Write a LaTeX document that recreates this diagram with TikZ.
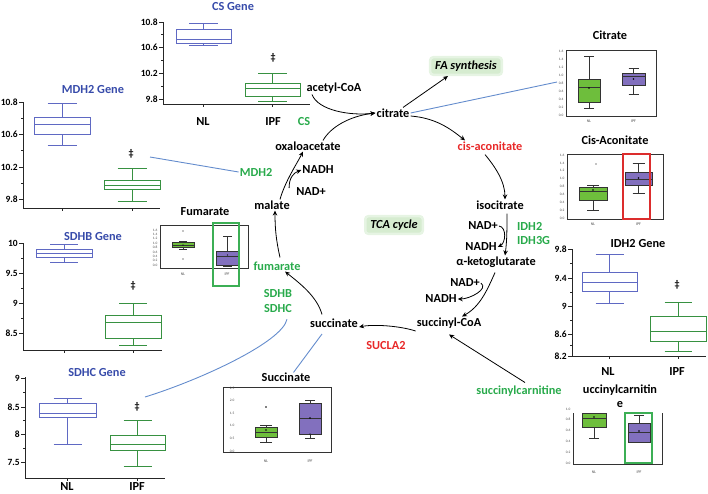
\documentclass[tikz,border=0pt]{standalone}
\usepackage{fontspec}
\setmainfont{Carlito}
\usetikzlibrary{arrows.meta}
\definecolor{gtitleblue}{RGB}{55,75,170}
\definecolor{geneblue}{RGB}{95,105,195}
\definecolor{genegreen}{RGB}{55,145,65}
\definecolor{lblgreen}{RGB}{40,170,75}
\definecolor{lblred}{RGB}{232,40,40}
\definecolor{fillgreen}{RGB}{110,190,60}
\definecolor{fillpurple}{RGB}{130,112,190}
\definecolor{linkblue}{RGB}{100,140,205}
\definecolor{shadegreen}{RGB}{214,236,208}
\definecolor{hlgreen}{RGB}{60,175,85}
\definecolor{hlred}{RGB}{220,45,45}
% box plot: cx, half width, cap half width, whisker top, q top, median, q bottom, whisker bottom, style
\newcommand{\bxp}[9]{%
  \draw[#9] (#1-#2,#5) rectangle (#1+#2,#7);
  \draw[#9] (#1-#2,#6) -- (#1+#2,#6);
  \draw[#9] (#1,#5) -- (#1,#4) (#1-#3,#4) -- (#1+#3,#4);
  \draw[#9] (#1,#7) -- (#1,#8) (#1-#3,#8) -- (#1+#3,#8);
}
% major y ticks of a gene plot: axis x, name prefix, list y/label
\newcommand{\yticks}[3]{%
  \foreach \yy/\ll [count=\ii] in {#3} {%
    \draw[ax] (#1,\yy) -- (#1-4,\yy);
    \node[ytl, anchor=east] (#2\ii) at (#1-4.5,\yy) {\ll};}
}
\newcommand{\mnticks}[2]{\foreach \yy in {#2} {\draw[ax] (#1,\yy) -- (#1-2.5,\yy);}}
% tick labels of a metabolite plot: x, y start, step, list, name prefix
\newcommand{\mticks}[5]{%
  \foreach \ll [count=\ii] in {#4} {%
    \node[mtick, anchor=east] (#5\ii) at (#1,{#2+#3*(\ii-1)}) {\ll};}
}
\tikzset{
  lbl/.style={font=\fontsize{12.3}{14}\selectfont\bfseries, inner sep=1pt},
  glbl/.style={lbl, text=lblgreen},
  rlbl/.style={lbl, text=lblred},
  gtitle/.style={lbl, text=gtitleblue},
  ktitle/.style={lbl, text=black},
  ytl/.style={font=\fontsize{9.5}{10}\selectfont\bfseries, inner sep=0.5pt},
  dag/.style={font=\fontsize{10}{10}\selectfont\bfseries, inner sep=0pt},
  mtick/.style={font=\fontsize{3.5}{4}\selectfont, text=black!70, inner sep=0.5pt},
  mxl/.style={font=\fontsize{4}{4}\selectfont, text=black!70, inner sep=0.5pt},
  ax/.style={draw=black!85, line width=0.8pt},
  gb/.style={draw=geneblue, line width=0.9pt},
  gg/.style={draw=genegreen, line width=0.9pt},
  mg/.style={draw=black!80, fill=fillgreen, line width=0.6pt},
  mp/.style={draw=black!80, fill=fillpurple, line width=0.6pt},
  mframe/.style={draw=black!80, line width=0.6pt},
  shadebox/.style={font=\fontsize{12.3}{14}\selectfont\bfseries\itshape, fill=shadegreen,
     draw=shadegreen!60!white, line width=2.5pt, rounded corners=3pt, inner xsep=5pt, inner ysep=3.5pt},
  arr/.style={-{Stealth[length=5pt,width=4.5pt]}, line width=0.8pt, draw=black},
  link/.style={draw=linkblue, line width=0.9pt},
  meandot/.style={fill=black},
}
\begin{document}
\begin{tikzpicture}[x=1pt,y=-1pt]
\useasboundingbox (0,0) rectangle (708,493);

%%%%%%%% central cycle labels
\node[shadebox] (fa) at (466,66) {FA synthesis};
\node[shadebox] (tca) at (394,225) {TCA cycle};
\node[lbl] (acetyl) at (334,88) {acetyl-CoA};
\node[lbl] (citrate) at (393,113) {citrate};
\node[glbl] (cs) at (304,122) {CS};
\node[lbl] (oaa) at (308,146) {oxaloacetate};
\node[glbl] (mdh2) at (256,172) {MDH2};
\node[lbl] (nadh1) at (318,170) {NADH};
\node[lbl] (nad1) at (311,192) {NAD+};
\node[lbl] (malate) at (272,205) {malate};
\node[rlbl] (cisacon) at (490,146) {cis-aconitate};
\node[lbl] (isocit) at (500,205) {isocitrate};
\node[lbl] (nad2) at (483,226) {NAD+};
\node[glbl, anchor=west] (idh2) at (516,226) {IDH2};
\node[glbl, anchor=west] (idh3g) at (516,241) {IDH3G};
\node[lbl] (nadh2) at (481,247) {NADH};
\node[lbl] (akg) at (496,262) {α-ketoglutarate};
\node[lbl] (nad3) at (465,283) {NAD+};
\node[lbl] (nadh3) at (441,299) {NADH};
\node[lbl] (succoa) at (449,323) {succinyl-CoA};
\node[lbl] (succ) at (334,323) {succinate};
\node[rlbl] (sucla2) at (386,346) {SUCLA2};
\node[glbl] (fum) at (277,266) {fumarate};
\node[glbl] (sdhb) at (278,294) {SDHB};
\node[glbl] (sdhc) at (278,309) {SDHC};
\node[glbl] (succarn) at (519,391) {succinylcarnitine};

%%%%%%%% cycle arrows
\draw[arr] ([xshift=-22pt]acetyl.south) .. controls +(6,16) and +(-25,3) .. (citrate.west);
\draw[arr] ([xshift=15pt]oaa.north) .. controls +(8,-14) and +(-25,3) .. (citrate.west);
\draw[arr] ([xshift=10pt]citrate.north) -- ([xshift=-18pt]fa.south);
\draw[arr] ([yshift=-3pt]citrate.east) .. controls +(25,2) and +(-15,-12) .. ([xshift=-25pt]cisacon.north);
\draw[arr] ([xshift=-5pt,yshift=-3pt]cisacon.south) .. controls +(10,12) and +(0,-18) .. ([xshift=5pt]isocit.north);
\draw[arr] ([xshift=7pt,yshift=-3pt]isocit.south) .. controls +(0,15) and +(2,-15) .. ([xshift=9pt]akg.north);
\draw[arr] (nad2.east) .. controls +(8,1) and +(8,-4) .. (nadh2.east);
\draw[arr] ([xshift=-1pt,yshift=-4pt]akg.south) .. controls +(-8,18) and +(18,-10) .. ([xshift=13pt]succoa.north);
\draw[arr] (nad3.east) .. controls +(8,6) and +(12,0) .. (nadh3.east);
\draw[arr] ([yshift=-8pt]succoa.west) .. controls +(-15,-5) and +(15,-3) .. ([yshift=-4pt]succ.east);
\draw[arr] ([xshift=-12pt,yshift=3pt]succ.north) .. controls +(-5,-18) and +(15,12) .. ([xshift=8pt]fum.south);
\draw[arr] ([xshift=3pt,yshift=3pt]fum.north) .. controls +(-4,-18) and +(0,18) .. ([xshift=3pt]malate.south);
\draw[arr] ([xshift=8pt]malate.north) .. controls +(5,-18) and +(-6,12) .. ([xshift=-5pt]oaa.south);
\draw[arr] ([xshift=-6pt,yshift=4pt]nad1.west) .. controls +(0,-10) and +(-8,3) .. (nadh1.west);
\draw[arr] ([xshift=6pt,yshift=2pt]succarn.north) -- ([yshift=-5pt]succoa.south);

%%%%%%%% CS gene
\node[gtitle] (csg) at (233,7) {CS Gene};
\draw[ax] (163,22) -- (163,104) -- (310,104);
\yticks{163}{cstk}{22/10.8,47/10.6,73/10.2,99/9.8}
\mnticks{163}{34.5,60,86}
\draw[ax] (203.5,104) -- (203.5,107) (272.5,104) -- (272.5,107);
\bxp{203.5}{27.5}{14.5}{23}{29}{39}{43}{45}{gb}
\bxp{272.5}{27.5}{14.5}{73}{83}{88}{96}{101}{gg}
\node[dag] (csd) at (273,58) {‡};
\node[lbl] (csnl) at (203,122) {NL};
\node[lbl] (csipf) at (273,122) {IPF};

%%%%%%%% MDH2 gene
\node[gtitle] (mdg) at (93,90) {MDH2 Gene};
\draw[ax] (23,102) -- (23,208) -- (160,208);
\yticks{23}{mdtk}{102/10.8,134/10.6,167/10.2,199/9.8}
\mnticks{23}{118,150.5,183}
\draw[ax] (62,208) -- (62,211) (132,208) -- (132,211);
\bxp{62}{28}{14.5}{103}{117}{124}{134}{145}{gb}
\bxp{132}{28}{14.5}{168}{180}{185}{189}{201}{gg}
\node[dag] (mdd) at (131,154) {‡};

%%%%%%%% SDHB gene
\node[gtitle] (sbg) at (93,237) {SDHB Gene};
\draw[ax] (23,243) -- (23,350) -- (162,350);
\yticks{23}{sbtk}{243/10,273/9.5,303/9,333/8.5}
\mnticks{23}{258,288,318}
\draw[ax] (64,350) -- (64,353) (133,350) -- (133,353);
\bxp{64}{28}{14}{244}{249}{253}{257}{262}{gb}
\bxp{133}{28}{14}{303}{315}{322}{338}{345}{gg}
\node[dag] (sbd) at (133,286) {‡};

%%%%%%%% SDHC gene
\node[gtitle] (scg) at (97,373) {SDHC Gene};
\draw[ax] (25,377) -- (25,478) -- (165,478);
\yticks{25}{sctk}{378/9,407/8.5,434/8,462/7.5}
\mnticks{25}{392.5,420.5,448}
\draw[ax] (67.5,478) -- (67.5,481) (137.5,478) -- (137.5,481);
\bxp{67.5}{28.5}{14}{398}{403}{413}{417}{444}{gb}
\bxp{137.5}{27.5}{14}{420}{435}{444}{450}{466}{gg}
\node[dag] (scd) at (137,407) {‡};
\node[lbl] (scnl) at (67,487) {NL};
\node[lbl] (scipf) at (137,487) {IPF};

%%%%%%%% IDH2 gene
\node[ktitle] (idg) at (638,244) {IDH2 Gene};
\draw[ax] (572,249) -- (572,356) -- (706,356);
\yticks{572}{idtk}{249/9.8,278/9.4,306/9,334/8.6,356/8.2}
\mnticks{572}{263.5,292,320,345}
\draw[ax] (609.5,356) -- (609.5,359) (678,356) -- (678,359);
\bxp{609.5}{27.5}{14}{254}{272}{282}{291}{303}{gb}
\bxp{678}{28}{13.5}{302}{316}{331}{341}{351}{gg}
\node[dag] (idd) at (677,285) {‡};
\node[lbl] (idnl) at (608,372) {NL};
\node[lbl] (idipf) at (677,372) {IPF};

%%%%%%%% Citrate plot
\node[ktitle] (citt) at (610,35) {Citrate};
\draw[mframe] (566,50) rectangle (656,116);
\mticks{564}{51}{8}{1.6,1.4,1.2,1.0,0.8,0.6,0.4,0.2,0.0}{citk}
\bxp{589}{11}{5}{56}{79}{87}{102}{108}{mg}
\bxp{633.5}{11.5}{5}{68}{73}{76}{85}{94}{mp}
\fill[meandot] (589,88) circle (0.8pt) (633.5,79) circle (0.8pt);
\node[mxl] (citnl) at (589,121) {NL};
\node[mxl] (citipf) at (633.5,121) {IPF};

%%%%%%%% Cis-Aconitate plot
\node[ktitle] (cist) at (615,140) {Cis-Aconitate};
\draw[mframe] (567,154) rectangle (663,219);
\mticks{565}{155}{7.9}{1.6,1.4,1.2,1.0,0.8,0.6,0.4,0.2,0.0}{cisk}
\bxp{593}{14}{6}{185}{187}{191}{200}{210}{mg}
\bxp{638.5}{13.5}{6}{163}{172}{179}{185}{193}{mp}
\fill[meandot] (596,164) circle (0.7pt) (593,190) circle (0.8pt) (638.5,178) circle (0.8pt);
\draw[draw=hlred, line width=1.2pt] (623,154) rectangle (650,219);
\node[mxl] (cisnl) at (593,224) {NL};
\node[mxl] (cisipf) at (638.5,224) {IPF};

%%%%%%%% Fumarate plot
\node[ktitle] (fumt) at (205,212) {Fumarate};
\draw[mframe] (160,225) rectangle (248,268);
\mticks{158}{230}{4.4}{1.6,1.4,1.2,1.0,0.8,0.6,0.4,0.2,0.0}{fumk}
\bxp{183}{11}{4}{241}{242.5}{245}{247.5}{249}{mg}
\bxp{227.5}{11.5}{4.5}{236}{251}{256}{265}{266}{mp}
\fill[meandot] (183,231) circle (0.7pt) (183,259) circle (0.7pt) (183,245) circle (0.7pt) (227.5,255) circle (0.7pt);
\draw[draw=hlgreen, line width=1.2pt] (213,223) rectangle (239,286);
\node[mxl] (fumnl) at (183,274) {NL};
\node[mxl] (fumipf) at (227,274) {IPF};

%%%%%%%% Succinate plot
\node[ktitle] (succtitle) at (286,377) {Succinate};
\draw[mframe] (223,387) rectangle (331,452);
\mticks{235}{388}{12.6}{2.5,2.0,1.5,1.0,0.5,0.0}{suk}
\bxp{266}{11}{6}{425}{427}{432}{437}{442}{mg}
\bxp{310}{11}{5}{400}{403}{418}{434}{438}{mp}
\fill[meandot] (266,407) circle (0.8pt) (266,430) circle (0.8pt) (310,418) circle (0.8pt) (310,434) circle (0.7pt);
\node[mxl] (sunl) at (266,461) {NL};
\node[mxl] (suipf) at (310,461) {IPF};

%%%%%%%% Succinylcarnitine plot
\node[ktitle, align=center] (sctitle) at (620,396) {uccinylcarnitin\\e};
\draw[mframe] (573,413) -- (573,464) -- (662,464) -- (662,413);
\mticks{571}{409}{10.8}{1.0,0.8,0.6,0.4,0.2,0.0}{snk}
\bxp{594}{12}{5}{413}{413}{418}{427}{438}{mg}
\bxp{639}{11}{5}{415}{423}{432}{442}{442}{mp}
\fill[meandot] (594,417) circle (0.8pt) (639,431) circle (0.8pt);
\draw[draw=hlgreen, line width=1.2pt] (625,413) rectangle (652,463);
\node[mxl] (snnl) at (594,472) {NL};
\node[mxl] (snipf) at (639,472) {IPF};

%%%%%%%% blue links
\coordinate (mdhp) at (150,157);
\coordinate (citp) at (557,82);
\coordinate (sdhcp) at (145,397);
\coordinate (succlink) at (322,334);
\draw[link] (mdh2.west) -- (mdhp);
\draw[link] (citrate.east) -- (citp);
\draw[link] ([xshift=9pt,yshift=-5pt]sdhc.south) .. controls +(-5,23) and +(55,-17) .. (sdhcp);
\draw[link] (succlink) -- ([xshift=-18pt,yshift=-1pt]succtitle.north east);
\end{tikzpicture}
\end{document}
